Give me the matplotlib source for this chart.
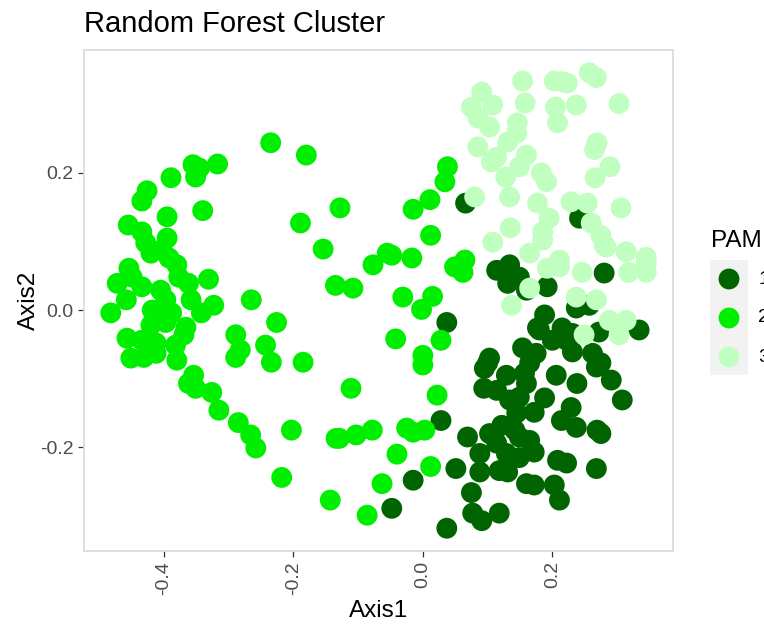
import numpy as np
import matplotlib.pyplot as plt
from matplotlib.patches import Rectangle

plt.rcParams['font.family'] = ['Liberation Sans', 'DejaVu Sans']

# Datos (Axis1, Axis2) por grupo PAM
x1 = [0.066, 0.037, 0.028, -0.015, -0.048, 0.037, 0.069, 0.051, 0.075, 0.077,
      0.091, 0.088, 0.088, 0.100, 0.094, 0.114, 0.103, 0.114, 0.134, 0.131,
      0.149, 0.192, 0.160, 0.280, 0.237, 0.257, 0.272, 0.311, 0.334, 0.242,
      0.188, 0.177, 0.215, 0.231, 0.222, 0.200, 0.154, 0.175, 0.165, 0.231,
      0.262, 0.275, 0.268, 0.103, 0.095, 0.129, 0.157, 0.206, 0.238, 0.291,
      0.308, 0.160, 0.149, 0.229, 0.172, 0.145, 0.214, 0.237, 0.269, 0.275,
      0.122, 0.142, 0.149, 0.114, 0.129, 0.149, 0.172, 0.208, 0.222, 0.268,
      0.118, 0.131, 0.160, 0.172, 0.203, 0.211, 0.118, 0.134, 0.188, 0.165,
      0.180]
y1 = [0.156, -0.018, -0.161, -0.248, -0.289, -0.318, -0.185, -0.231, -0.266, -0.296,
      -0.307, -0.236, -0.209, -0.077, -0.114, -0.117, -0.180, 0.058, 0.066, 0.039,
      0.048, 0.034, 0.029, 0.054, 0.003, 0.007, -0.032, -0.022, -0.029, 0.134,
      -0.007, -0.026, -0.026, -0.034, -0.044, -0.044, -0.055, -0.063, -0.077, -0.061,
      -0.063, -0.077, -0.083, -0.070, -0.085, -0.095, -0.092, -0.095, -0.107, -0.102,
      -0.131, -0.107, -0.127, -0.142, -0.149, -0.150, -0.161, -0.171, -0.175, -0.180,
      -0.168, -0.175, -0.185, -0.194, -0.209, -0.215, -0.207, -0.219, -0.223, -0.231,
      -0.234, -0.236, -0.253, -0.255, -0.255, -0.277, -0.296, -0.131, -0.128, -0.190,
      -0.029]

x2 = [-0.235, -0.180, -0.355, -0.345, -0.317, -0.351, -0.389, -0.426, -0.434, -0.340,
      -0.395, -0.455, -0.434, -0.395, -0.428, -0.420, -0.403, -0.392, -0.380, -0.454,
      -0.449, -0.331, -0.472, -0.434, -0.377, -0.362, -0.265, -0.458, -0.482, -0.397,
      -0.418, -0.388, -0.342, -0.323, -0.226, -0.289, -0.282, -0.289, -0.243, -0.234,
      -0.457, -0.434, -0.412, -0.382, -0.369, -0.451, -0.431, -0.412, -0.380, -0.354,
      -0.362, -0.326, -0.315, -0.366, -0.397, -0.185, -0.351, -0.285, -0.266, -0.258,
      -0.203, -0.218, -0.134, -0.143, 0.038, 0.034, 0.011, -0.015, -0.128, -0.189,
      0.012, -0.154, -0.077, -0.055, -0.048, -0.017, 0.049, 0.065, 0.062, -0.135,
      -0.108, -0.031, 0.015, -0.002, -0.042, 0.028, 0.000, 0.000, -0.111, 0.022,
      -0.129, -0.103, -0.078, -0.025, -0.015, 0.003, -0.040, 0.012, -0.063, -0.086,
      -0.405, -0.420, -0.358]
y2 = [0.244, 0.226, 0.212, 0.207, 0.213, 0.194, 0.193, 0.174, 0.159, 0.145,
      0.136, 0.124, 0.114, 0.105, 0.098, 0.083, 0.088, 0.076, 0.066, 0.061,
      0.048, 0.045, 0.039, 0.034, 0.048, 0.039, 0.015, 0.015, -0.004, 0.015,
      0.000, -0.004, -0.004, 0.007, -0.018, -0.036, -0.058, -0.069, -0.051, -0.076,
      -0.041, -0.044, -0.048, -0.051, -0.036, -0.070, -0.069, -0.063, -0.073, -0.095,
      -0.107, -0.120, -0.146, -0.025, -0.018, -0.076, -0.114, -0.164, -0.182, -0.201,
      -0.175, -0.244, -0.187, -0.277, 0.209, 0.187, 0.161, 0.147, 0.149, 0.127,
      0.109, 0.089, 0.066, 0.083, 0.080, 0.076, 0.063, 0.073, 0.055, 0.036,
      0.032, 0.019, 0.020, 0.001, -0.042, -0.044, -0.066, -0.080, -0.114, -0.124,
      -0.187, -0.182, -0.175, -0.172, -0.178, -0.175, -0.210, -0.228, -0.253, -0.299,
      0.029, -0.022, 0.015]

x3 = [0.154, 0.203, 0.215, 0.223, 0.257, 0.268, 0.091, 0.075, 0.108, 0.158,
      0.205, 0.237, 0.303, 0.085, 0.103, 0.208, 0.146, 0.145, 0.131, 0.085,
      0.269, 0.265, 0.160, 0.114, 0.106, 0.149, 0.128, 0.183, 0.191, 0.289,
      0.266, 0.080, 0.134, 0.177, 0.229, 0.254, 0.195, 0.185, 0.135, 0.108,
      0.260, 0.275, 0.283, 0.306, 0.314, 0.345, 0.165, 0.211, 0.185, 0.280,
      0.345, 0.318, 0.345, 0.246, 0.192, 0.165, 0.137, 0.237, 0.268, 0.249,
      0.288, 0.303, 0.314, 0.211]
y3 = [0.334, 0.334, 0.333, 0.331, 0.346, 0.339, 0.318, 0.296, 0.299, 0.302,
      0.296, 0.299, 0.301, 0.280, 0.267, 0.273, 0.273, 0.258, 0.245, 0.238,
      0.244, 0.234, 0.226, 0.223, 0.216, 0.209, 0.194, 0.200, 0.187, 0.209,
      0.193, 0.165, 0.165, 0.156, 0.158, 0.156, 0.134, 0.114, 0.120, 0.099,
      0.127, 0.109, 0.092, 0.149, 0.085, 0.077, 0.083, 0.073, 0.102, 0.095,
      0.069, 0.055, 0.055, 0.055, 0.061, 0.032, 0.007, 0.019, 0.015, -0.036,
      -0.015, -0.036, -0.015, 0.063]

grupos = ['1', '2', '3']
colores = ['#006400', '#00EE00', '#C1FFC1']
xticks = [-0.4, -0.2, 0.0, 0.2]
yticks = [-0.2, 0.0, 0.2]

fig = plt.figure(figsize=(7.64, 6.29), dpi=100)
ax = fig.add_axes([84/764, 1 - 551/629, 589/764, 501/629])

tam = 225
for xs, ys, c in zip([x1, x2, x3], [y1, y2, y3], colores):
    ax.scatter(xs, ys, s=tam, color=c, edgecolors='none', zorder=3)

# Límites con expansión del 5% (como ggplot)
todos_x = np.concatenate([x1, x2, x3])
todos_y = np.concatenate([y1, y2, y3])
rx = todos_x.max() - todos_x.min()
ry = todos_y.max() - todos_y.min()
ax.set_xlim(todos_x.min() - 0.05 * rx, todos_x.max() + 0.05 * rx)
ax.set_ylim(todos_y.min() - 0.05 * ry, todos_y.max() + 0.05 * ry)

ax.set_xticks(xticks)
ax.set_xticklabels([f"{v:.1f}" for v in xticks], rotation=90)
ax.set_yticks(yticks)
ax.set_yticklabels([f"{v:.1f}" for v in yticks])
ax.tick_params(axis='both', length=4.3, width=0.9, color='#333333',
               labelcolor='#4d4d4d', labelsize=14, pad=3)
for sp in ax.spines.values():
    sp.set_color('#dcdcdc')
    sp.set_linewidth(1.3)

ax.set_xlabel("Axis1", fontsize=17.5, labelpad=4)
ax.set_ylabel("Axis2", fontsize=17.5, labelpad=0)
fig.text(84/764, 1 - 32/629, "Random Forest Cluster", fontsize=21, ha='left', va='baseline')

# Leyenda dibujada en coordenadas de píxel
lax = fig.add_axes([0, 0, 1, 1], zorder=-1)
lax.set_xlim(0, 764)
lax.set_ylim(629, 0)
lax.axis('off')
lax.text(711, 247, "PAM", fontsize=17.5, ha='left', va='baseline')
lax.add_patch(Rectangle((710, 260), 38, 115, color='#f2f2f2', lw=0))
for i, (g, c) in enumerate(zip(grupos, colores)):
    yk = 279 + 39 * i
    lax.scatter([729], [yk], s=tam, color=c, edgecolors='none')
    lax.text(758, yk, g, fontsize=14, ha='left', va='center')

fig.savefig("out.png", dpi=100)
